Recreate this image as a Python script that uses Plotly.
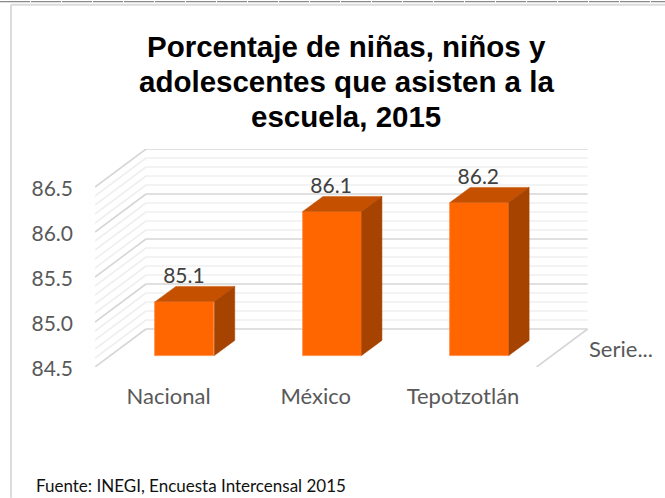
import plotly.graph_objects as go

categories = ["Nacional", "México", "Tepotzotlán"]
values = [85.1, 86.1, 86.2]
label_texts = ["85.1", "86.1", "86.2"]
y_ticks = [84.5, 85.0, 85.5, 86.0, 86.5]
y_tick_labels = ["84.5", "85.0", "85.5", "86.0", "86.5"]
minor_step_values = [84.6, 84.7, 84.8, 84.9, 85.1, 85.2, 85.3, 85.4, 85.6, 85.7, 85.8, 85.9,
                     86.1, 86.2, 86.3, 86.4]
title_lines = ["Porcentaje de niñas, niños y", "adolescentes que asisten a la", "escuela, 2015"]
source_text = "Fuente: INEGI, Encuesta Intercensal 2015"
series_label = "Serie..."

W, H = 665, 498
LEFT, RIGHT, TOP, BOTTOM = 95.0, 600.0, 149.3, 367.3
PX_PER_VALUE = 90.0
PX_PER_CAT = 147.2
DEPTH_X = 51.0 / PX_PER_CAT      # full floor depth in x units
DEPTH_Y = 38.0 / PX_PER_VALUE    # full floor depth in y units
BAR_NEAR, BAR_FAR = 0.30, 0.70   # bar depth position on the floor
BAR_NUDGE_X = 1.0 / PX_PER_CAT
BAR_W = 0.40
Y0 = y_ticks[0]
X_MIN, X_MAX = -0.5, -0.5 + (RIGHT - LEFT) / PX_PER_CAT
X_FRONT_R = 2.5
Y_MAX = Y0 + (BOTTOM - TOP) / PX_PER_VALUE

MAJOR = "#d6d6d6"
MINOR = "#efefef"
FACE = "#ff6600"
TOP_FACE = "#c55000"
SIDE_FACE = "#a64300"


def gridline(x0, y0, x1, y1, color, width):
    return dict(type="line", xref="x", yref="y", layer="below", x0=x0, y0=y0, x1=x1, y1=y1,
                line=dict(color=color, width=width))


shapes = []
for v, col, wid in [(m, MINOR, 1.6) for m in minor_step_values] + [(t, MAJOR, 1.6) for t in y_ticks]:
    shapes.append(gridline(X_MIN, v, X_MIN + DEPTH_X, v + DEPTH_Y, col, wid))
    shapes.append(gridline(X_MIN + DEPTH_X, v + DEPTH_Y, X_FRONT_R + DEPTH_X, v + DEPTH_Y, col, wid))
shapes.append(gridline(X_FRONT_R, Y0, X_FRONT_R + DEPTH_X, Y0 + DEPTH_Y, MAJOR, 1.6))

fx = lambda p: (p - LEFT) / (RIGHT - LEFT)
fy = lambda p: (BOTTOM - p) / (BOTTOM - TOP)
border = "#dcdcdc"
shapes += [
    dict(type="line", xref="paper", yref="paper", x0=fx(11), x1=fx(11), y0=fy(5), y1=fy(H),
         line=dict(color=border, width=2)),
    dict(type="line", xref="paper", yref="paper", x0=fx(11), x1=fx(W), y0=fy(5), y1=fy(5),
         line=dict(color=border, width=2)),
    dict(type="line", xref="paper", yref="paper", x0=fx(0), x1=fx(W), y0=fy(2), y1=fy(2),
         line=dict(color="#8a8a8a", width=1.2, dash="30px,1px")),
]

fig = go.Figure()
near_shift_x = BAR_NEAR * DEPTH_X
near_shift_y = BAR_NEAR * DEPTH_Y
far_shift_x = BAR_FAR * DEPTH_X
far_shift_y = BAR_FAR * DEPTH_Y
xs = list(range(len(categories)))

fig.add_trace(go.Bar(
    x=[i + near_shift_x + BAR_NUDGE_X for i in xs],
    y=[v - Y0 for v in values],
    base=Y0 + near_shift_y,
    width=BAR_W,
    marker=dict(color=FACE, line=dict(color="#ff8a3d", width=0.75)),
    showlegend=False,
    hoverinfo="skip",
))

for i, v in zip(xs, values):
    xl = i + near_shift_x + BAR_NUDGE_X - BAR_W / 2
    xr = i + near_shift_x + BAR_NUDGE_X + BAR_W / 2
    d = far_shift_x - near_shift_x
    yn = v + near_shift_y
    yf = v + far_shift_y
    yb_n = Y0 + near_shift_y
    yb_f = Y0 + far_shift_y
    fig.add_trace(go.Scatter(x=[xl, xr, xr + d, xl + d, xl], y=[yn, yn, yf, yf, yn], mode="lines",
                             fill="toself", fillcolor=TOP_FACE, line=dict(color=TOP_FACE, width=0.5),
                             showlegend=False, hoverinfo="skip"))
    fig.add_trace(go.Scatter(x=[xr, xr + d, xr + d, xr, xr], y=[yn, yf, yb_f, yb_n, yn], mode="lines",
                             fill="toself", fillcolor=SIDE_FACE, line=dict(color=SIDE_FACE, width=0.5),
                             showlegend=False, hoverinfo="skip"))

fig.add_trace(go.Scatter(
    x=[i + near_shift_x for i in xs],
    y=[v + near_shift_y + 24 / PX_PER_VALUE for v in values],
    mode="text", text=label_texts, textposition="middle center",
    textfont=dict(family="Lato", size=21, color="#404040"),
    showlegend=False, hoverinfo="skip", cliponaxis=False,
))

annotations = [
    dict(text=line, xref="paper", yref="paper", x=fx(346), y=fy(yc), xanchor="center", yanchor="middle",
         showarrow=False, font=dict(family="Liberation Sans", size=29.5, color="black", weight="bold"))
    for line, yc in zip(title_lines, [47, 82, 117])
]
annotations += [
    dict(text=series_label, xref="paper", yref="paper", x=fx(587), y=fy(349), xanchor="left",
         yanchor="middle", showarrow=False, font=dict(family="Lato", size=22, color="#595959")),
    dict(text=source_text, xref="paper", yref="paper", x=fx(34), y=fy(486), xanchor="left",
         yanchor="middle", showarrow=False, font=dict(family="Lato", size=17, color="#111111")),
]

fig.update_layout(
    width=W, height=H,
    margin=dict(l=LEFT, r=W - RIGHT, t=TOP, b=H - BOTTOM, pad=0, autoexpand=False),
    paper_bgcolor="white", plot_bgcolor="rgba(0,0,0,0)",
    showlegend=False, bargap=0,
    xaxis=dict(range=[X_MIN, X_MAX], tickmode="array", tickvals=xs, ticktext=categories,
               showgrid=False, zeroline=False, showline=False, ticks="",
               ticklabelstandoff=14,
               tickfont=dict(family="Lato", size=22, color="#595959")),
    yaxis=dict(range=[Y0, Y_MAX], tickmode="array", tickvals=y_ticks, ticktext=y_tick_labels,
               showgrid=False, zeroline=False, showline=False, ticks="",
               ticklabelstandoff=21, ticklabelshift=2,
               tickfont=dict(family="Lato", size=21, color="#595959")),
    shapes=shapes,
    annotations=annotations,
)

fig.write_html("out.html", post_script="document.body.style.margin='0';",
               config={"displayModeBar": False})
